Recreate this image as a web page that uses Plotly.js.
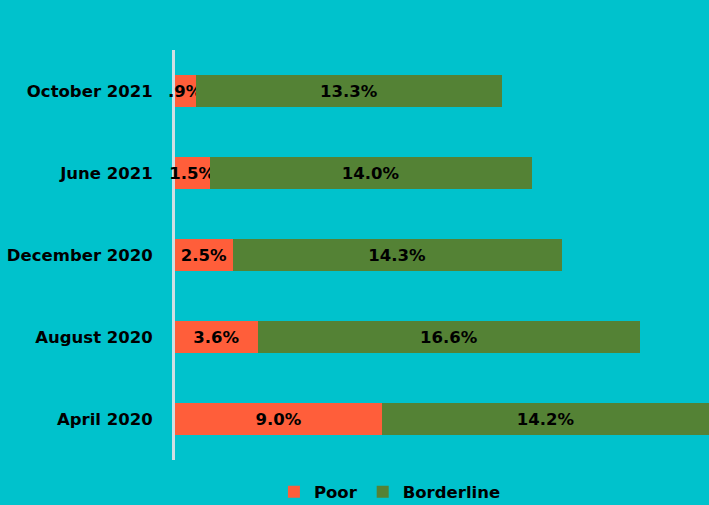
<!DOCTYPE html>
<html>
<head>
<meta charset="utf-8">
<script src="https://cdn.plot.ly/plotly-3.0.1.min.js"></script>
<style>html,body{margin:0;padding:0;background:#00C2CC;}#chart{width:709px;height:505px;}</style>
</head>
<body>
<div id="chart"></div>
<script>
const categories = ["April 2020", "August 2020", "December 2020", "June 2021", "October 2021"];
const poor = [9.0, 3.6, 2.5, 1.5, 0.9];
const borderline = [14.2, 16.6, 14.3, 14.0, 13.3];
const poorLabels = ["9.0%", "3.6%", "2.5%", "1.5%", ".9%"];
const borderlineLabels = ["14.2%", "16.6%", "14.3%", "14.0%", "13.3%"];

const font = {family: "DejaVu Sans", size: 16.5, color: "#000000", weight: "bold"};

const common = {
  type: "bar",
  orientation: "h",
  y: categories,
  textposition: "inside",
  insidetextanchor: "middle",
  constraintext: "none",
  textangle: 0,
  cliponaxis: false,
  textfont: font,
  hoverinfo: "none"
};

const traces = [
  Object.assign({}, common, {name: "Poor", x: poor, text: poorLabels, marker: {color: "#FF5E3A"}}),
  Object.assign({}, common, {name: "Borderline", x: borderline, text: borderlineLabels, marker: {color: "#548235"}})
];

const layout = {
  width: 709, height: 505,
  barmode: "stack",
  bargap: 0.605,
  paper_bgcolor: "#00C2CC",
  plot_bgcolor: "#00C2CC",
  margin: {l: 175, r: 0, t: 50, b: 45, autoexpand: false},
  font: font,
  xaxis: {range: [0, 23.2], visible: false, fixedrange: true},
  yaxis: {
    showline: true, linecolor: "#CFDFE3", linewidth: 3,
    showgrid: false, zeroline: false, ticks: "",
    layer: "below traces",
    ticklabelstandoff: 16,
    tickfont: font
  },
  showlegend: true,
  legend: {
    orientation: "h", x: 0.4025, xanchor: "center", y: -0.078, yanchor: "middle",
    itemwidth: 30,
    font: font, bgcolor: "rgba(0,0,0,0)", traceorder: "normal"
  }
};

Plotly.newPlot("chart", traces, layout, {displayModeBar: false, staticPlot: true});
</script>
</body>
</html>
